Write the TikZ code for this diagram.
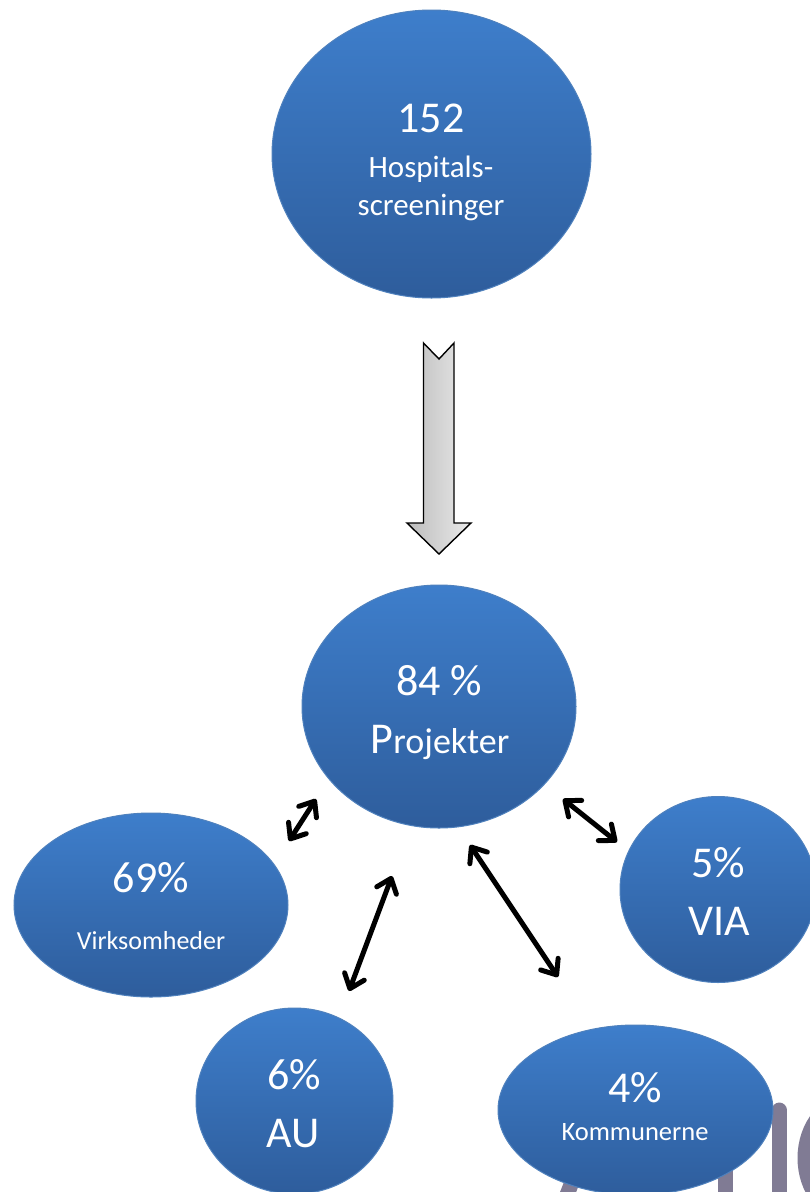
\documentclass[tikz,border=0pt]{standalone}
\usepackage{fontspec}
\setmainfont{Carlito}
\usetikzlibrary{shapes.geometric,arrows.meta}
\definecolor{btop}{RGB}{62,126,203}
\definecolor{bbot}{RGB}{46,93,156}
\definecolor{bedge}{RGB}{79,129,189}
\definecolor{ghost}{RGB}{128,123,148}
\definecolor{arrL}{RGB}{188,188,188}
\definecolor{arrR}{RGB}{234,234,234}
\tikzset{
  bub/.style={ellipse, inner sep=0pt, outer sep=0pt, draw=bedge, line width=1pt, top color=btop, bottom color=bbot},
  lbl/.style={text=white, anchor=base, inner sep=0pt},
  big/.style={font=\fontsize{44}{44}\selectfont},
  dbl/.style={line width=5pt, line cap=round,
    {Straight Barb[length=13pt,width=21pt,round]}-{Straight Barb[length=13pt,width=21pt,round]}},
  ghostline/.style={ghost, line width=15pt, line cap=round}
}
\begin{document}
\begin{tikzpicture}[x=1pt,y=-1pt]
\useasboundingbox (0,0) rectangle (810,1192);
\clip (0,0) rectangle (810,1192);
\fill[white] (0,0) rectangle (810,1192);
% faint background lettering (partly hidden)
\draw[ghostline] (563,1205) -- (612,1080);
\draw[ghostline] (725,1100) -- (725,1205);
\draw[ghostline] (779,1110) -- (779,1205);
\draw[ghostline] (852,1158) ellipse[x radius=47, y radius=58];
% bubbles
\node[bub, minimum width=319pt, minimum height=288pt] (hosp) at (431.5,154) {};
\node[bub, minimum width=274pt, minimum height=243pt] (proj) at (439,706.5) {};
\node[bub, minimum width=274pt, minimum height=184pt] (virk) at (151,905) {};
\node[bub, minimum width=196pt, minimum height=186pt] (via) at (718,889.5) {};
\node[bub, minimum width=197pt, minimum height=186pt] (au) at (294.5,1101) {};
\node[bub, minimum width=275pt, minimum height=170pt] (komm) at (635.5,1110) {};
% texts
\node[lbl, big] (t152) at (431,132) {152};
\node[lbl, font=\fontsize{31}{31}\selectfont] (thosp) at (431,177) {Hospitals-};
\node[lbl, font=\fontsize{31}{31}\selectfont] (tscr) at (431,215) {screeninger};
\node[lbl, big] (t84) at (439,695) {84 \%};
\node[lbl] (tproj) at (440,753) {{\fontsize{44}{44}\selectfont P}\fontsize{36}{36}\selectfont rojekter};
\node[lbl, big] (t69) at (151,892) {69\%};
\node[lbl, font=\fontsize{26}{26}\selectfont] (tvirk) at (151,949) {Virksomheder};
\node[lbl, big] (t5) at (718,877) {5\%};
\node[lbl, big] (tvia) at (719,935) {VIA};
\node[lbl, big] (t6) at (294,1089) {6\%};
\node[lbl, big] (tau) at (293,1147) {AU};
\node[lbl, big] (t4) at (635,1102) {4\%};
\node[lbl, font=\fontsize{26.5}{26.5}\selectfont] (tkomm) at (635,1140) {Kommunerne};
% block arrow
\draw[line width=1.4pt, line join=miter, left color=arrL, right color=arrR]
  (423.5,343) -- (439,359) -- (454,343) -- (454,523) -- (471,523) -- (439,554)
  -- (407,523) -- (423.5,523) -- cycle;
% connector end points
\coordinate (a1p) at (316,799);
\coordinate (a1v) at (289,841);
\coordinate (a2p) at (392,876);
\coordinate (a2a) at (349,991);
\coordinate (a3p) at (470,845);
\coordinate (a3k) at (558,977);
\coordinate (a4p) at (563,799);
\coordinate (a4v) at (617,842);
\draw[dbl] (a1p) -- (a1v);
\draw[dbl] (a2p) -- (a2a);
\draw[dbl] (a3p) -- (a3k);
\draw[dbl] (a4p) -- (a4v);
\end{tikzpicture}
\end{document}
